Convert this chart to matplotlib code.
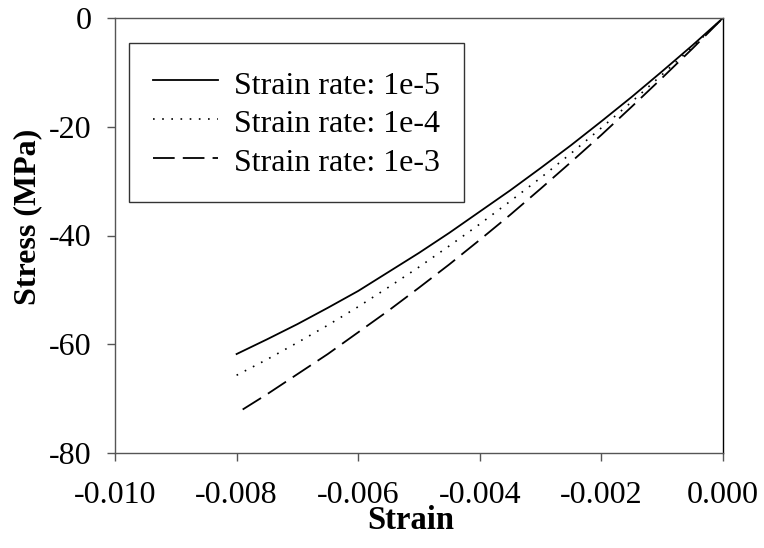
import numpy as np
import matplotlib.pyplot as plt

plt.rcParams['font.family'] = ['Liberation Serif', 'DejaVu Serif']
plt.rcParams['axes.unicode_minus'] = False

# values, every 0.0005 strain
strain = [-0.0080, -0.0075, -0.0070, -0.0065, -0.0060, -0.0055, -0.0050, -0.0045, -0.0040,
          -0.0035, -0.0030, -0.0025, -0.0020, -0.0015, -0.0010, -0.0005, 0.0]
stress_1e5 = [-61.8, -59.1, -56.3, -53.3, -50.2, -46.7, -43.2, -39.5, -35.6,
              -31.7, -27.6, -23.4, -19.0, -14.5, -9.8, -5.0, 0.0]
stress_1e4 = [-65.7, -62.8, -59.7, -56.5, -53.1, -49.5, -45.8, -41.9, -37.9,
              -33.7, -29.4, -24.9, -20.2, -15.4, -10.4, -5.3, 0.0]
strain_1e3 = [-0.0079, -0.0075, -0.0070, -0.0065, -0.0060, -0.0055, -0.0050, -0.0045, -0.0040,
              -0.0035, -0.0030, -0.0025, -0.0020, -0.0015, -0.0010, -0.0005, 0.0]
stress_1e3 = [-72.0, -69.2, -65.5, -61.8, -57.8, -53.8, -49.6, -45.3, -40.8,
              -36.2, -31.4, -26.5, -21.5, -16.3, -11.0, -5.6, 0.0]

xticks = [-0.010, -0.008, -0.006, -0.004, -0.002, 0.000]
yticks = [-80, -60, -40, -20, 0]

fig = plt.figure(figsize=(7.64, 5.48), dpi=100)
ax = fig.add_axes([115/764, 1 - 453/548, 608/764, 435/548])

ax.plot(strain, stress_1e5, color='black', lw=1.3, ls='-', label='Strain rate: 1e-5')
ax.plot(strain, stress_1e4, color='black', lw=1.2, ls=(0, (1, 4.5)), label='Strain rate: 1e-4')
ax.plot(strain_1e3, stress_1e3, color='black', lw=1.3, ls=(0, (12, 4.5)), label='Strain rate: 1e-3')

ax.set_xlim(-0.010, 0.000)
ax.set_ylim(-80, 0)
ax.set_xticks(xticks)
ax.set_xticklabels(['%.3f' % t for t in xticks])
ax.set_yticks(yticks)
ax.tick_params(axis='both', labelsize=23, direction='out', length=6, width=1, color='#555555')
ax.tick_params(axis='x', pad=14)
ax.tick_params(axis='y', pad=11)
ax.tick_params(top=False, right=False)
for s in ax.spines.values():
    s.set_linewidth(1)
ax.spines['top'].set_color('#555555')
ax.spines['left'].set_color('#555555')
ax.spines['bottom'].set_color('#555555')

ax.set_xlabel('Strain', fontsize=23.5, fontweight='bold')
ax.set_ylabel('Stress (MPa)', fontsize=23, fontweight='bold')
ax.xaxis.set_label_coords(0.487, -0.12)
ax.yaxis.set_label_coords(-0.120, 0.543)

leg = ax.legend(loc='upper left', bbox_to_anchor=(0.023, 0.943), fontsize=23,
                frameon=True, fancybox=False, edgecolor='black', handlelength=2.06,
                handleheight=1.2, borderpad=0.74, labelspacing=0.145,
                handletextpad=0.5, borderaxespad=0)
leg.get_frame().set_linewidth(1)

fig.savefig('out.png', dpi=100)
